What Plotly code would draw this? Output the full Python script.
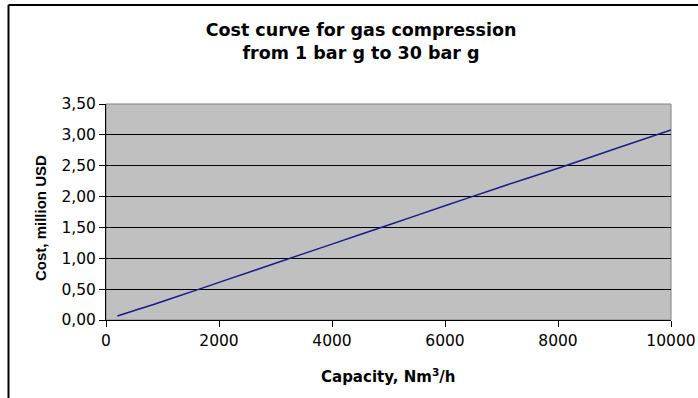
import plotly.graph_objects as go

capacity = [200, 1000, 1650, 2000, 3000, 4000, 5000, 6000, 7000, 8000, 9000, 10000]
cost = [0.065, 0.30, 0.50, 0.61, 0.92, 1.23, 1.54, 1.85, 2.16, 2.46, 2.77, 3.08]

x_ticks = [0, 2000, 4000, 6000, 8000, 10000]
y_ticks = [0, 0.5, 1.0, 1.5, 2.0, 2.5, 3.0, 3.5]
y_labels = ["0,00", "0,50", "1,00", "1,50", "2,00", "2,50", "3,00", "3,50"]

W, H = 698, 398
L, R, T, B = 106, 27, 104, 78
PW, PH = W - L - R, H - T - B

wide = "DejaVu Sans, Verdana, sans-serif"
narrow = "Liberation Sans, Arial, sans-serif"

fig = go.Figure()
fig.add_trace(go.Scatter(x=capacity, y=cost, mode="lines",
                         line=dict(color="#1a1a8c", width=1.5), line_shape="spline",
                         showlegend=False, hoverinfo="skip"))

fig.update_layout(
    width=W, height=H,
    margin=dict(l=L, r=R, t=T, b=B, autoexpand=False),
    paper_bgcolor="white",
    plot_bgcolor="#c0c0c0",
    font=dict(family=wide, color="black", size=16),
    title=dict(text="<b>Cost curve for gas compression<br>from 1 bar g to 30 bar g</b>",
               x=361 / W, xanchor="center", y=1 - 36 / H, yanchor="top",
               font=dict(size=17.5, family=wide)),
    xaxis=dict(range=[0, 10000], tickvals=x_ticks, ticktext=[str(v) for v in x_ticks],
               showgrid=False, zeroline=False, showline=True, linecolor="black", linewidth=1,
               ticks="outside", ticklen=6, tickcolor="black", automargin=False,
               tickfont=dict(size=15.5, family=wide)),
    yaxis=dict(range=[0, 3.5], tickvals=y_ticks, ticktext=y_labels,
               showgrid=True, gridcolor="black", gridwidth=1, zeroline=False,
               showline=True, linecolor="black", linewidth=1,
               ticks="outside", ticklen=6, tickcolor="black", automargin=False,
               tickfont=dict(size=15.5, family=wide)),
    annotations=[
        dict(text="<b>Capacity, Nm<sup>3</sup>/h</b>", xref="paper", yref="paper",
             x=(388 - L) / PW, y=-(376 - (T + PH)) / PH, xanchor="center", yanchor="middle",
             showarrow=False, font=dict(size=15, family=wide)),
        dict(text="<b>Cost, million USD</b>", xref="paper", yref="paper",
             x=(40 - L) / PW, y=(T + PH - 218) / PH, xanchor="center", yanchor="middle",
             textangle=-90, showarrow=False, font=dict(size=15, family=narrow)),
    ],
)

# plot area border (grey top/right)
fig.add_shape(type="rect", xref="paper", yref="paper", x0=0, y0=0, x1=1, y1=1,
              line=dict(color="#808080", width=1), layer="below")
# outer frame lines of the chart (left and top)
fx = (8.5 - L) / PW
fy_top = 1 + (T - 5) / PH
fy_bot = -(B + 5) / PH
fig.add_shape(type="line", xref="paper", yref="paper", x0=fx, x1=fx, y0=fy_bot, y1=fy_top,
              line=dict(color="black", width=2))
fig.add_shape(type="line", xref="paper", yref="paper", x0=fx, x1=1 + (R + 5) / PW,
              y0=fy_top, y1=fy_top, line=dict(color="black", width=2))

fig.write_html("out.html", config={"displayModeBar": False},
               post_script="document.body.style.margin='0px';")
